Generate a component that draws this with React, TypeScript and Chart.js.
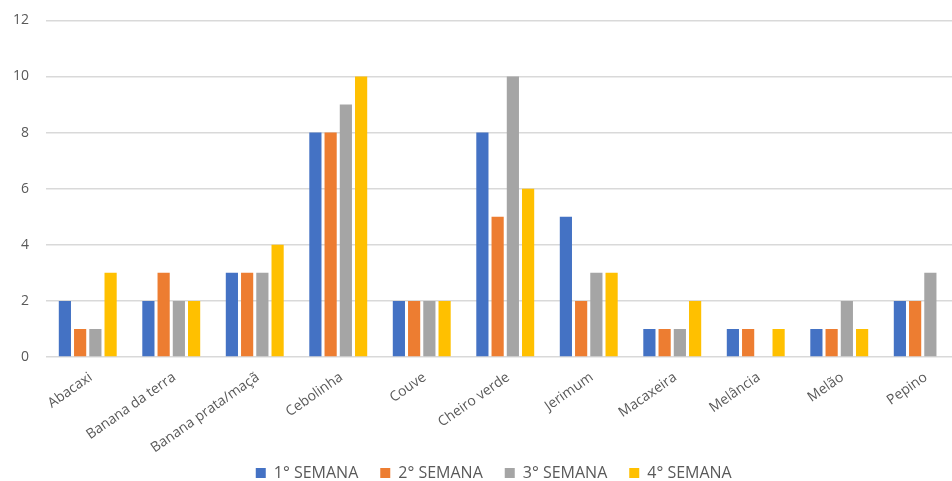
import React, { useEffect, useRef } from "react";
import { Chart, registerables } from "chart.js";

Chart.register(...registerables);

const categories = [
  "Abacaxi",
  "Banana da terra",
  "Banana prata/maçã",
  "Cebolinha",
  "Couve",
  "Cheiro verde",
  "Jerimum",
  "Macaxeira",
  "Melância",
  "Melão",
  "Pepino",
];
const seriesLabels = ["1° SEMANA", "2° SEMANA", "3° SEMANA", "4° SEMANA"];
const semana1 = [2, 2, 3, 8, 2, 8, 5, 1, 1, 1, 2];
const semana2 = [1, 3, 3, 8, 2, 5, 2, 1, 1, 1, 2];
const semana3 = [1, 2, 3, 9, 2, 10, 3, 1, 0, 2, 3];
const semana4 = [3, 2, 4, 10, 2, 6, 3, 2, 1, 1, 0];
const colors = ["#4472C4", "#ED7D31", "#A5A5A5", "#FFC000"];
const yTicks = { min: 0, max: 12, step: 2 };

const unclipLabels = {
  id: "unclipLabels",
  afterLayout(chart: any) {
    const x = chart.scales.x;
    if (x) x.bottom = chart.height;
    const y = chart.scales.y;
    if (y) y.left = 0;
  },
};

export default function App() {
  const ref = useRef<HTMLCanvasElement | null>(null);
  useEffect(() => {
    document.body.style.margin = "0";
    if (!ref.current) return;
    const values = [semana1, semana2, semana3, semana4];
    const font = "'Open Sans', 'Noto Sans', sans-serif";
    const chart = new Chart(ref.current, {
      type: "bar",
      data: {
        labels: categories,
        datasets: values.map((v, i) => ({
          label: seriesLabels[i],
          data: v,
          backgroundColor: colors[i],
          borderWidth: 0,
          categoryPercentage: 0.73,
          barPercentage: 0.8,
        })),
      },
      plugins: [unclipLabels],
      options: {
        animation: false,
        responsive: true,
        maintainAspectRatio: false,
        layout: { padding: { top: 3, left: 23, right: 65.5, bottom: -10 } },
        plugins: {
          tooltip: { enabled: false },
          legend: {
            position: "bottom",
            labels: {
              boxWidth: 10,
              boxHeight: 10,
              padding: 22,
              color: "#595959",
              font: { family: font, size: 16 },
            },
          },
        },
        scales: {
          x: {
            grid: { display: false },
            border: { display: false },
            afterFit: (scale: any) => {
              scale.height = 86;
              scale.paddingLeft = 0;
              scale.paddingRight = 0;
            },
            ticks: {
              color: "#595959",
              font: { family: font, size: 14 },
              minRotation: 35,
              maxRotation: 35,
              autoSkip: false,
              padding: 4,
              labelOffset: 3,
            },
          },
          y: {
            min: yTicks.min,
            max: yTicks.max,
            afterFit: (scale: any) => {
              scale.width = 23;
            },
            ticks: {
              stepSize: yTicks.step,
              color: "#595959",
              font: { family: font, size: 14 },
              padding: 17,
            },
            grid: { color: "#D9D9D9", lineWidth: 1.5, drawTicks: false },
            border: { display: false },
          },
        },
      },
    });
    return () => chart.destroy();
  }, []);
  return (
    <div style={{ width: 952, height: 481, overflow: "hidden", position: "relative", background: "#fff" }}>
      <div style={{ width: 1030, height: 486, position: "absolute", left: 0, top: -5 }}>
        <canvas ref={ref} />
      </div>
    </div>
  );
}
